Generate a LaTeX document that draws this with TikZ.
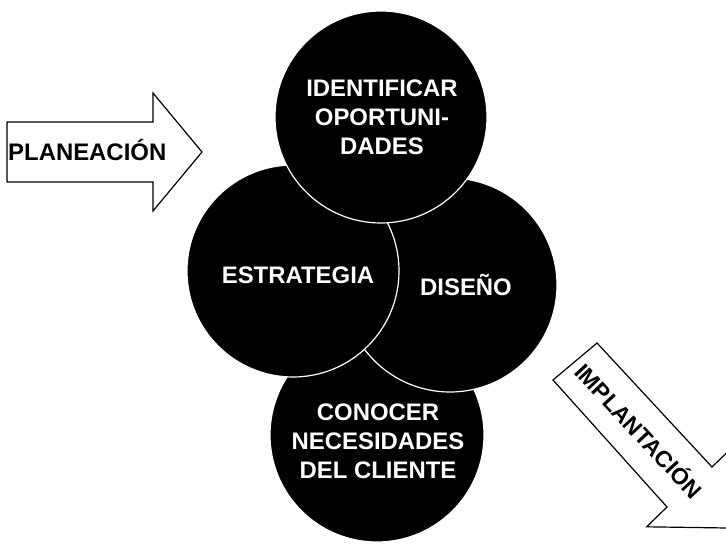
\documentclass[tikz,border=0pt]{standalone}
\usepackage{fontspec}
\setmainfont{Liberation Sans}
\begin{document}
\begin{tikzpicture}[x=1bp,y=-1bp,
    disc/.style={circle,fill=black,draw=white,line width=1.2bp,minimum size=#1,inner sep=0pt},
    disctext/.style={text=white,font=\fontsize{24}{29}\selectfont\bfseries,align=center},
    bigarrow/.style={draw=black,line width=1.2bp,fill=white},
    arrowtext/.style={font=\fontsize{23}{27}\selectfont\bfseries}]
  \clip (0,0) rectangle (726,544);
  % arrows
  \draw[bigarrow] (7,122) -- (153,122) -- (153,93) -- (202,152) -- (153,211) -- (153,182) -- (7,182) -- cycle;
  \node[arrowtext,font=\fontsize{24}{28}\selectfont\bfseries,anchor=base west,inner sep=0pt] (plan) at (8,161) {PLANEACIÓN};
  \draw[bigarrow] (597,343) -- (712,467) -- (732.4,447.2) -- (727.5,528) -- (646.6,526.8) -- (667,507) -- (553,380) -- cycle;
  \node[arrowtext,rotate=-47] (impl) at (640,430) {IMPLANTACIÓN};
  % circles, back to front
  \node[disc=214bp] (cliente) at (377,435) {};
  \node[disc=214bp] (diseno) at (450,285) {};
  \node[disc=212bp] (estrategia) at (293,271) {};
  \node[disc=212bp] (oportunidades) at (381,117) {};
  \node[disctext] (tcliente) at (378,441) {CONOCER\\NECESIDADES\\DEL CLIENTE};
  \node[disctext] (tdiseno) at (466,285) {DISEÑO};
  \node[disctext] (testrategia) at (298,275) {ESTRATEGIA};
  \node[disctext] (toportunidades) at (382,117) {IDENTIFICAR\\OPORTUNI-\\DADES};
\end{tikzpicture}
\end{document}
